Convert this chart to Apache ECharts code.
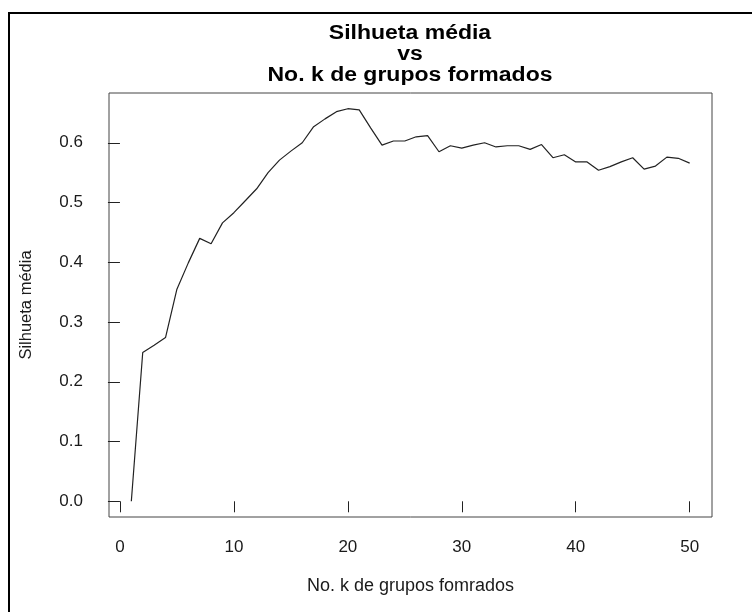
<!DOCTYPE html>
<html>
<head>
<meta charset="utf-8">
<script src="https://cdn.jsdelivr.net/npm/echarts@6/dist/echarts.min.js"></script>
<style>
html,body{margin:0;padding:0;background:#fff;}
#chart{width:752px;height:612px;}
</style>
</head>
<body>
<div id="chart"></div>
<script>
// Data
const kValues = [1,2,3,4,5,6,7,8,9,10,11,12,13,14,15,16,17,18,19,20,21,22,23,24,25,26,27,28,29,30,31,32,33,34,35,36,37,38,39,40,41,42,43,44,45,46,47,48,49,50];
const silhuetaMedia = [0.000,0.249,0.261,0.274,0.355,0.399,0.440,0.431,0.466,0.483,
  0.503,0.523,0.550,0.571,0.586,0.600,0.627,0.640,0.652,0.657,
  0.655,0.625,0.596,0.603,0.603,0.610,0.612,0.585,0.595,0.591,
  0.596,0.600,0.593,0.595,0.595,0.589,0.597,0.575,0.580,0.568,
  0.568,0.554,0.560,0.568,0.575,0.556,0.561,0.576,0.574,0.566];
const xTicks = [0,10,20,30,40,50];
const yTicks = [0,0.1,0.2,0.3,0.4,0.5,0.6];
const titleLines = ['Silhueta média','vs','No. k de grupos formados'];
const xName = 'No. k de grupos fomrados';
const yName = 'Silhueta média';

const chart = echarts.init(document.getElementById('chart'), null, {renderer:'canvas'});
const font = 'Liberation Sans, Arial, sans-serif';
const txt = '#1a1a1a';

const xMin = -0.96, xMax = 51.96;
const yMin = -0.0263, yMax = 0.6833;

const titleGraphics = titleLines.map((t,i)=>({
  type:'text', x:410, y:43 + i*21,
  scaleX:1.15, scaleY:1,
  style:{text:t, fill:'#000', font:'bold 20px ' + font, textAlign:'center', textVerticalAlign:'bottom'}
}));

chart.setOption({
  backgroundColor:'#fff',
  animation:false,
  graphic:[
    {type:'rect', shape:{x:9, y:13, width:800, height:700}, style:{fill:'none', stroke:'#000', lineWidth:2}},
    ...titleGraphics
  ],
  grid:{left:109, top:93, right:40, bottom:95, show:true, borderColor:'#444', borderWidth:1, outerBoundsMode:'none'},
  xAxis:{
    type:'value', min:xMin, max:xMax,
    name:xName, nameLocation:'middle', nameGap:60,
    nameTextStyle:{color:txt, fontSize:18, fontFamily:font},
    axisLine:{show:false},
    splitLine:{show:false},
    axisTick:{show:true, inside:false, length:11, customValues:xTicks, lineStyle:{color:'#222', width:1}},
    axisLabel:{show:true, customValues:xTicks, margin:22, color:txt, fontSize:17, fontFamily:font, formatter:v=>String(v)}
  },
  yAxis:{
    type:'value', min:yMin, max:yMax,
    name:yName, nameLocation:'middle', nameGap:74, nameRotate:90,
    nameTextStyle:{color:txt, fontSize:16.5, fontFamily:font},
    axisLine:{show:false},
    splitLine:{show:false},
    axisTick:{show:true, inside:false, length:12, customValues:yTicks, lineStyle:{color:'#222', width:1}},
    axisLabel:{show:true, customValues:yTicks, margin:26, color:txt, fontSize:17, fontFamily:font, formatter:v=>v.toFixed(1)}
  },
  series:[{
    type:'line',
    data:kValues.map((k,i)=>[k, silhuetaMedia[i]]),
    showSymbol:false, symbol:'none',
    lineStyle:{color:'#222', width:1.2},
    silent:true
  }]
});
</script>
</body>
</html>
